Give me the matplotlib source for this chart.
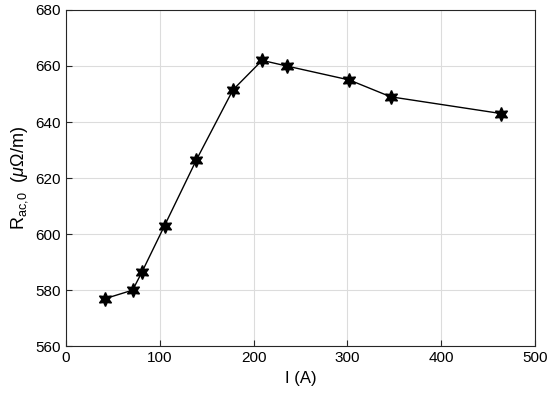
import matplotlib
matplotlib.use("Agg")
import matplotlib.pyplot as plt

# current (A) and ac resistance (uOhm/m)
current = [42, 71, 81, 105, 139, 178, 209, 235, 302, 346, 464]
r_ac = [577, 580, 586.5, 603, 626.5, 651.5, 662, 660, 655, 649, 643]

plt.rcParams['font.family'] = ['Liberation Sans', 'DejaVu Sans']
plt.rcParams['mathtext.fontset'] = 'custom'
plt.rcParams['mathtext.rm'] = 'Liberation Sans'
plt.rcParams['mathtext.it'] = 'Liberation Sans:italic'

fig = plt.figure(figsize=(5.5, 3.97), dpi=100)
ax = fig.add_axes([0.12, 0.128, 0.853, 0.847])

ax.plot(current, r_ac, color='black', lw=1.0, marker=(6, 1, 0),
        markersize=10, markerfacecolor='black', markeredgecolor='black')

ax.set_xlim(0, 500)
ax.set_ylim(560, 680)
ax.set_xticks(range(0, 501, 100))
ax.set_yticks(range(560, 681, 20))
ax.grid(True, color='#dcdcdc', lw=0.8)
ax.set_axisbelow(True)
ax.tick_params(direction='in', labelsize=11, length=4, color='#262626')
for s in ax.spines.values():
    s.set_color('#262626')
    s.set_linewidth(0.8)

ax.set_xlabel('I (A)', fontsize=12)
ax.set_ylabel(r'R$_{\mathrm{ac},\!\mathrm{0}}$  ($\mu\Omega$/m)', fontsize=13)

fig.savefig('out.png', dpi=100)
